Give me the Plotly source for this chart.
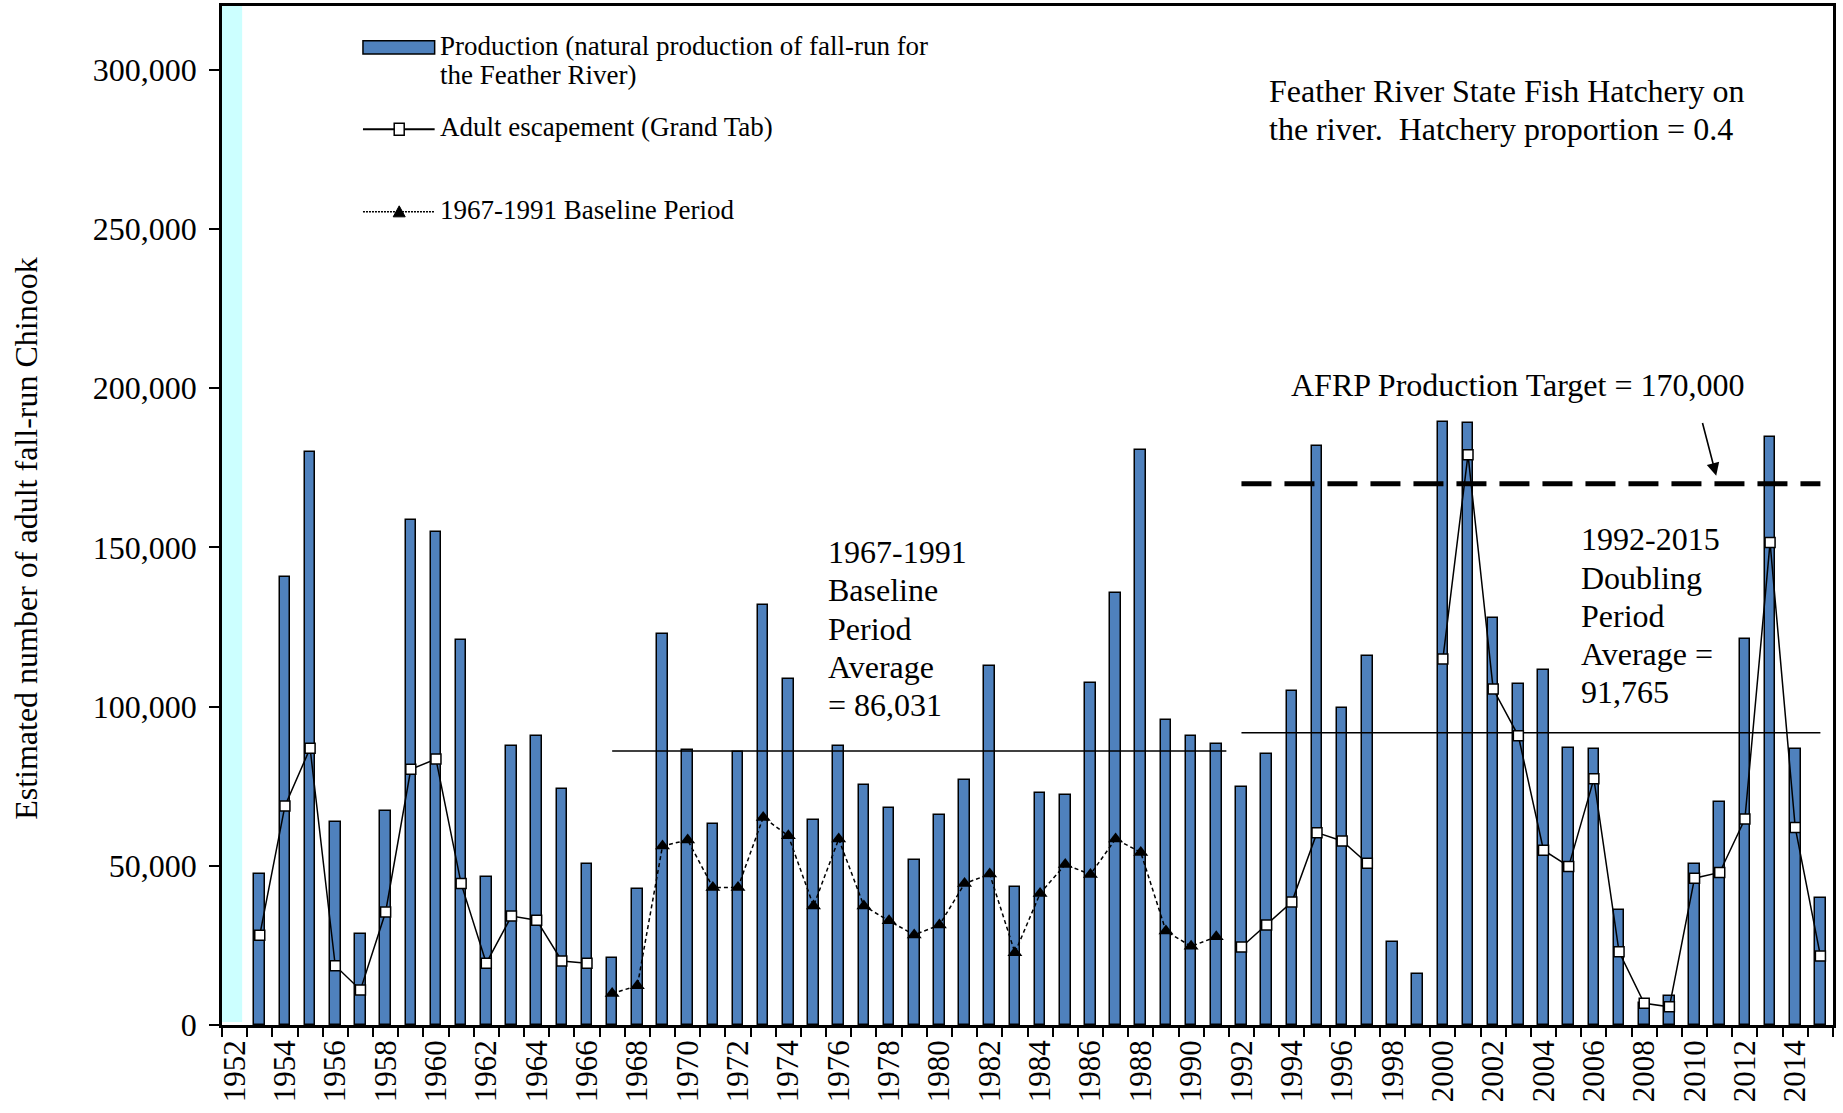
import plotly.graph_objects as go

# Years on the x axis (1952 has no data, only the cyan band)
years = list(range(1952, 2016))

# Natural production of fall-run Chinook (bars)
production = [
    None, 47300, 140800, 180000, 63900, 28700, 67100, 158700, 154900, 120900,
    46600, 87700, 90900, 74200, 50500, 20900, 42700, 122900, 86400, 63200,
    85700, 131800, 108800, 64500, 87700, 75300, 68300, 51700, 65800, 76800,
    112700, 43400, 73000, 72200, 107500, 135700, 180500, 95800, 90900, 88200,
    74800, 85100, 104900, 181900, 99700, 115800, 26000, 15900, 189500, 188900,
    127900, 107000, 111400, 87100, 86600, 36000, 7000, 9000, 50700, 69900,
    121300, 184500, 86600, 39800,
]

# Adult escapement (Grand Tab), outside the baseline period
escapement = [
    None, 28200, 68800, 86900, 18600, 11000, 35500, 80300, 83500, 44400,
    19400, 34200, 32900, 20100, 19400,
] + [None] * 25 + [
    24500, 31400, 38600, 60400, 57800, 50800, None, None, 114900, 179100,
    105500, 90800, 54900, 49800, 77300, 23000, 6800, 5700, 46100, 47900,
    64700, 151500, 62000, 21700,
]

# Escapement during the 1967-1991 baseline period
baseline_years = list(range(1967, 1992))
baseline = [
    9900, 12300, 56200, 58100, 43200, 43200, 65200, 59400, 37400, 58400,
    37400, 32700, 28300, 31400, 44400, 47400, 22700, 41300, 50400, 47300,
    58400, 54200, 29500, 24700, 27700,
]

baseline_avg = 86031
doubling_years = (1992, 2015)
doubling_avg = 91765
afrp_target = 170000

FONT = "Liberation Serif, Times New Roman, serif"
BAR = "#4F81BD"
LINE_STEP = 12000  # spacing between stacked text lines, in y units

fig = go.Figure()

# cyan band over the first (empty) year
fig.add_shape(type="rect", xref="x", yref="paper", x0=1951.5, x1=1952.3,
              y0=0.003, y1=1, fillcolor="#CCFFFF", line_width=0, layer="below")

fig.add_trace(go.Bar(
    x=years, y=production, width=0.42,
    marker=dict(color=BAR, line=dict(color="black", width=1.5)),
    name="Production",
))

# averages + target
fig.add_trace(go.Scatter(
    x=[baseline_years[0], baseline_years[-1] + 0.4], y=[baseline_avg] * 2,
    mode="lines", line=dict(color="black", width=1.5), hoverinfo="skip",
))
fig.add_trace(go.Scatter(
    x=list(doubling_years), y=[doubling_avg] * 2,
    mode="lines", line=dict(color="black", width=1.5), hoverinfo="skip",
))
fig.add_trace(go.Scatter(
    x=list(doubling_years), y=[afrp_target] * 2,
    mode="lines", line=dict(color="black", width=5, dash="30px,13px"),
    hoverinfo="skip",
))

fig.add_trace(go.Scatter(
    x=years, y=escapement, mode="lines+markers", connectgaps=False,
    line=dict(color="black", width=1.5),
    marker=dict(symbol="square", size=10, color="white",
                line=dict(color="black", width=1.5)),
    name="Adult escapement (Grand Tab)",
))
fig.add_trace(go.Scatter(
    x=baseline_years, y=baseline, mode="lines+markers",
    line=dict(color="black", width=1.5, dash="4px,3px"),
    marker=dict(symbol="triangle-up", size=13, color="black"),
    name="1967-1991 Baseline Period",
))

# --- hand-drawn legend (paper coords of the plot area) ---
lx0, lx1, lxm = 0.0875, 0.132, 0.110
fig.add_shape(type="rect", xref="paper", yref="paper", x0=lx0, x1=lx1,
              y0=0.953, y1=0.966, fillcolor=BAR,
              line=dict(color="black", width=1.5))
fig.add_shape(type="line", xref="paper", yref="paper", x0=lx0, x1=lx1,
              y0=0.879, y1=0.879, line=dict(color="black", width=2))
fig.add_shape(type="rect", xref="paper", yref="paper", xsizemode="pixel",
              ysizemode="pixel", xanchor=lxm, yanchor=0.879,
              x0=-5, x1=5, y0=-6, y1=6, fillcolor="white",
              line=dict(color="black", width=1.5))
fig.add_shape(type="line", xref="paper", yref="paper", x0=lx0, x1=lx1,
              y0=0.798, y1=0.798, line=dict(color="black", width=1.5, dash="2px,1px"))
fig.add_shape(type="path", xref="paper", yref="paper", xsizemode="pixel",
              ysizemode="pixel", xanchor=lxm, yanchor=0.798,
              path="M-6,-5 L6,-5 L0,6 Z", fillcolor="black",
              line=dict(color="black", width=1))

legend_texts = [
    ("Production (natural production of fall-run for", 0.961),
    ("the Feather River)", 0.932),
    ("Adult escapement (Grand Tab)", 0.881),
    ("1967-1991 Baseline Period", 0.800),
]
for txt, yy in legend_texts:
    fig.add_annotation(text=txt, xref="paper", yref="paper", x=0.134, y=yy,
                       xanchor="left", yanchor="middle", align="left",
                       showarrow=False, font=dict(family=FONT, size=27, color="black"))


def text_block(lines, x, y_top, size):
    for i, line in enumerate(lines):
        fig.add_annotation(
            text=line, x=x, y=y_top - i * LINE_STEP, xanchor="left",
            yanchor="middle", align="left", showarrow=False,
            font=dict(family=FONT, size=size, color="black"))


# --- chart annotations ---
text_block(["Feather River State Fish Hatchery on",
            "the river.  Hatchery proportion = 0.4"], 1993.0, 293400, 32)
text_block(["AFRP Production Target = 170,000"], 1993.9, 201000, 32)
fig.add_annotation(
    x=2010.86, y=172500, ax=2010.3, ay=189500, axref="x", ayref="y",
    text="", showarrow=True, arrowhead=2, arrowsize=1.6, arrowwidth=1.6,
    arrowcolor="black")
text_block(["1967-1991", "Baseline", "Period", "Average", "= 86,031"],
           1975.5, 148500, 32)
text_block(["1992-2015", "Doubling", "Period", "Average =", "91,765"],
           2005.4, 152500, 32)

# y title
fig.add_annotation(
    text="Estimated number of adult fall-run Chinook", textangle=-90,
    xref="paper", yref="paper", x=-0.1217, y=0.478, xanchor="center",
    yanchor="middle", showarrow=False,
    font=dict(family=FONT, size=32, color="black"))

fig.update_xaxes(
    range=[1951.5, 2015.5], tickmode="array", tickvals=years[::2],
    ticktext=[str(y) for y in years[::2]], tickangle=-90, ticks="",
    tickfont=dict(family=FONT, size=31, color="black"),
    minor=dict(tickmode="linear", tick0=1951.5, dtick=1, ticks="outside",
               ticklen=9, tickwidth=2, tickcolor="black", showgrid=False),
    showline=True, linecolor="black", linewidth=2.5, mirror=True,
    showgrid=False, zeroline=False,
)
fig.update_yaxes(
    range=[0, 320000], tickmode="array",
    tickvals=list(range(0, 300001, 50000)), tickformat=",d",
    ticks="outside", ticklen=10, tickwidth=2, tickcolor="black",
    ticklabelstandoff=6,
    tickfont=dict(family=FONT, size=32, color="black"),
    showline=True, linecolor="black", linewidth=2.5, mirror=True,
    showgrid=False, zeroline=False,
)
fig.update_layout(
    width=1843, height=1113,
    margin=dict(l=222, r=10, t=3, b=88),
    showlegend=False, bargap=0,
    plot_bgcolor="white", paper_bgcolor="white",
    font=dict(family=FONT, color="black"),
)

# drop the browser's default body margin so the figure sits at (0, 0)
fig.write_html("out.html", config={"displayModeBar": False},
               post_script="document.body.style.margin='0';")
